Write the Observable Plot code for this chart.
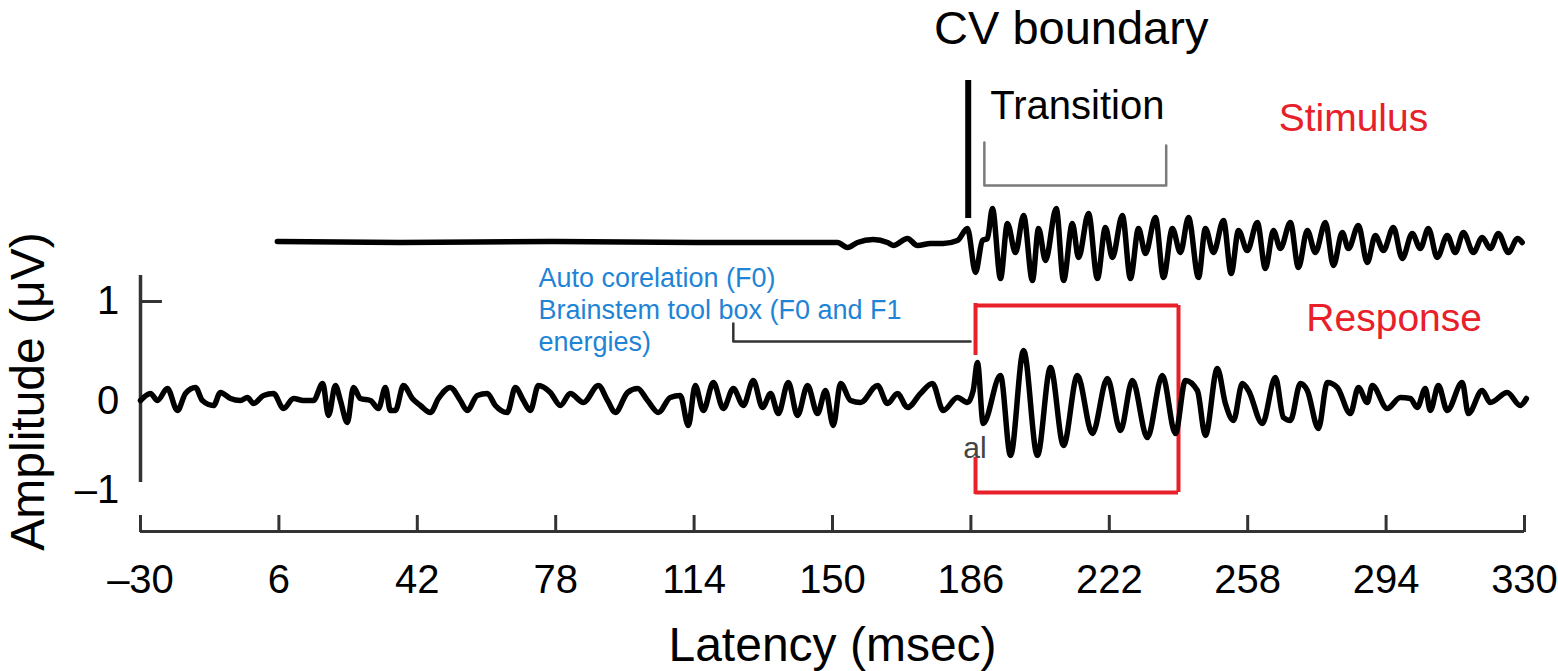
<!DOCTYPE html>
<html><head><meta charset="utf-8">
<script src="https://cdn.jsdelivr.net/npm/d3@7"></script>
<script src="https://cdn.jsdelivr.net/npm/@observablehq/plot@0.6"></script>
<style>body{margin:0;background:#fff}</style>
</head><body><div id="chart"></div>
<script>
// Tick labels
const xTicks = [-30, 6, 42, 78, 114, 150, 186, 222, 258, 294, 330];
const yTicks = [1, 0, -1];

// Response (µV) vs latency (msec)
const responseT = [
  -30, -27.4, -25.6, -23.0, -20.4, -18.3, -15.7, -13.9, -11.0, -9.2,
  -6.6, -4.0, -2.2, -0.6, 2.0, 4.6, 7.2, 9.8, 12.4, 15.0,
  17.4, 18.9, 20.7, 22.0, 23.8, 25.4, 27.2, 29.8, 31.9, 33.7,
  35.0, 36.3, 38.4, 40.7, 42.8, 45.4, 47.5, 50.6, 53.2, 55.0,
  57.6, 60.2, 62.3, 65.4, 67.5, 69.6, 71.4, 73.5, 76.6, 79.2,
  81.8, 85.2, 89.1, 91.5, 93.5, 96.7, 99.3, 101.9, 104.7, 107.8,
  110.4, 112.5, 114.3, 116.4, 119.0, 121.6, 124.2, 126.8, 129.4, 131.8,
  133.9, 135.9, 138.5, 140.9, 143.5, 146.1, 148.2, 150.2, 152.1, 154.7,
  157.3, 161.7, 164.3, 166.9, 169.5, 172.9, 176.0, 178.8, 182.5, 185.1,
  186.6, 187.7, 189.2, 193.7, 196.3, 199.7, 203.3, 206.7, 210.1, 213.7,
  217.6, 221.5, 224.9, 228.0, 231.9, 235.8, 239.2, 241.8, 244.9, 247.0,
  250.1, 252.2, 254.3, 256.6, 258.2, 261.8, 265.2, 267.3, 269.1, 271.7,
  273.5, 276.4, 278.7, 281.3, 284.7, 286.8, 289.1, 290.4, 294.3, 297.7,
  300.3, 302.1, 304.2, 305.5, 307.6, 309.9, 313.8, 315.4, 319.0, 321.1,
  325.5, 328.9, 330.5
];
const responseV = [
  0.01, 0.08, 0.01, 0.13, -0.09, 0.08, 0.14, 0.01, -0.04, 0.09,
  0.03, 0.01, 0.04, -0.02, 0.06, 0.08, -0.07, 0.03, 0.01, 0.01,
  0.18, -0.14, 0.16, 0.01, -0.21, 0.14, 0.03, 0.01, -0.07, 0.14,
  -0.09, -0.09, 0.16, 0.03, -0.04, -0.11, 0.03, 0.14, 0.01, -0.09,
  0.06, 0.08, -0.04, -0.11, 0.14, 0.01, -0.09, 0.16, 0.09, -0.04,
  0.08, -0.01, 0.16, 0.01, -0.11, 0.09, 0.13, 0.01, -0.11, 0.04,
  0.06, -0.24, 0.16, -0.09, 0.19, -0.07, 0.13, -0.04, 0.21, -0.06,
  0.08, -0.12, 0.19, -0.14, 0.16, -0.12, 0.11, -0.24, 0.18, 0.01,
  -0.01, 0.16, -0.02, 0.08, -0.06, 0.08, 0.18, -0.09, 0.04, -0.01,
  0.11, 0.39, -0.22, 0.26, -0.54, 0.51, -0.54, 0.34, -0.44, 0.26,
  -0.32, 0.23, -0.29, 0.21, -0.36, 0.26, -0.32, 0.21, 0.11, -0.34,
  0.33, -0.02, -0.19, 0.18, 0.11, -0.22, 0.24, -0.16, -0.19, 0.18,
  0.11, -0.27, 0.19, 0.14, -0.12, 0.14, -0.01, 0.16, -0.07, 0.04,
  0.03, -0.06, 0.13, -0.09, 0.16, -0.09, 0.19, -0.12, 0.11, -0.01,
  0.09, -0.04, 0.03
];

// Stimulus waveform (relative units) vs latency (msec)
const stimulusT = [
  5.6, 37.6, 76.6, 115.6, 145.0, 151.3, 153.9, 156.5, 160.6, 164.3,
  165.8, 169.5, 172.1, 175.5, 178.8, 182.5, 185.1, 187.2, 189.0, 190.3,
  191.6, 193.7, 195.5, 197.6, 199.7, 202.0, 203.6, 205.4, 208.2, 210.1,
  212.4, 214.0, 216.6, 218.9, 221.0, 222.8, 225.4, 227.5, 229.6, 231.4,
  234.0, 236.1, 238.4, 240.5, 242.6, 245.2, 247.0, 249.1, 251.7, 253.7,
  255.6, 257.9, 260.5, 262.6, 264.7, 266.5, 269.1, 271.2, 273.5, 275.6,
  278.2, 280.3, 282.6, 284.2, 286.8, 289.1, 291.2, 293.3, 295.9, 298.2,
  300.8, 302.9, 305.0, 307.3, 309.9, 312.0, 314.1, 316.7, 319.0, 321.1,
  323.2, 325.8, 328.2, 329.4
];
const stimulusV = [
  0, -0.01, 0, -0.01, -0.01, -0.01, -0.06, -0.01, 0.02, -0.01,
  -0.04, 0.03, -0.04, -0.02, -0.02, 0.01, 0.13, -0.31, 0.01, 0.03,
  0.33, -0.37, 0.18, -0.11, 0.26, -0.39, 0.13, -0.19, 0.33, -0.39,
  0.18, -0.16, 0.28, -0.37, 0.14, -0.16, 0.26, -0.37, 0.13, -0.12,
  0.24, -0.36, 0.13, -0.11, 0.24, -0.36, 0.13, -0.11, 0.21, -0.32,
  0.11, -0.09, 0.19, -0.27, 0.11, -0.07, 0.19, -0.26, 0.11, -0.11,
  0.19, -0.24, 0.09, -0.07, 0.16, -0.21, 0.06, -0.09, 0.14, -0.17,
  0.08, -0.07, 0.13, -0.16, 0.06, -0.11, 0.09, -0.11, 0.04, -0.07,
  0.08, -0.11, 0.03, -0.01
];

// Annotated times (msec)
const cvBoundary = 185.3;
const transitionSpan = [189.5, 236.8];
const analysisWindow = [187.2, 240.0];

const FONT = "'Liberation Sans', Arial, Helvetica, sans-serif";
const RED = "#e8202a";
const BLUE = "#1f84d6";
const AXIS = "#333";
const STIM_OFFSET = 1.6;

const response = responseT.map((t, i) => ({t, v: responseV[i]}));
const stimulus = stimulusT.map((t, i) => ({t, v: stimulusV[i] + STIM_OFFSET}));
const fmt = d => d < 0 ? "\u2013" + Math.abs(d) : String(d);

const chart = Plot.plot({
  width: 1558,
  height: 671,
  style: {fontFamily: FONT, background: "#fff", color: "#000", overflow: "visible"},
  x: {domain: [-30, 330], range: [140, 1524], axis: null},
  y: {domain: [-1, 1], range: [501, 301], axis: null},
  marks: [
    // red analysis window box
    Plot.ruleY([0.96, -0.91], {x1: analysisWindow[0], x2: analysisWindow[1], stroke: RED, strokeWidth: 4}),
    Plot.ruleX([analysisWindow[1]], {y1: 0.96, y2: -0.91, stroke: RED, strokeWidth: 4}),
    Plot.ruleX([{y1: 0.98, y2: 0.46}, {y1: -0.56, y2: -0.93}], {x: analysisWindow[0], y1: "y1", y2: "y2", stroke: RED, strokeWidth: 4}),
    // leader line from annotation
    Plot.line([{t: 124.2, v: 0.78}, {t: 124.2, v: 0.60}, {t: 185.9, v: 0.60}], {x: "t", y: "v", stroke: AXIS, strokeWidth: 2.5}),
    // axes
    Plot.ruleX([-30], {y1: 1.26, y2: -0.81, stroke: AXIS, strokeWidth: 3.5}),
    Plot.ruleY([1], {x1: -30, x2: -24.3, stroke: AXIS, strokeWidth: 3}),
    Plot.ruleY([-1.30], {x1: -30, x2: 330, stroke: AXIS, strokeWidth: 3}),
    Plot.ruleX(xTicks, {y1: -1.31, y2: -1.14, stroke: AXIS, strokeWidth: 3}),
    Plot.text(xTicks, {x: d => d, y: -1.91, text: fmt, fontSize: 40, lineAnchor: "bottom", fill: "#000"}),
    Plot.text(yTicks.filter(d => d !== -1), {x: -35.5, y: d => d, text: fmt, fontSize: 40, textAnchor: "end", lineAnchor: "middle", fill: "#000"}),
    Plot.text(yTicks.filter(d => d === -1), {x: -35.5, y: d => d, dy: -11, text: fmt, fontSize: 40, textAnchor: "end", lineAnchor: "middle", fill: "#000"}),
    Plot.text(["Amplitude (\u03bcV)"], {x: -55.2, y: 0.10, rotate: -90, fontSize: 48, lineAnchor: "bottom", textAnchor: "middle", fill: "#000"}),
    Plot.text(["Latency (msec)"], {x: 150, y: -2.59, fontSize: 48, lineAnchor: "bottom", fill: "#000"}),
    // CV boundary & transition
    Plot.ruleX([cvBoundary], {y1: 3.21, y2: 1.83, stroke: "#000", strokeWidth: 6}),
    Plot.line([{t: transitionSpan[0], v: 2.59}, {t: transitionSpan[0], v: 2.16}, {t: transitionSpan[1], v: 2.16}, {t: transitionSpan[1], v: 2.56}],
      {x: "t", y: "v", stroke: "#7a7a7a", strokeWidth: 2.5}),
    Plot.text(["CV boundary"], {x: 212.1, y: 3.58, fontSize: 47, lineAnchor: "bottom", fill: "#000"}),
    Plot.text(["Transition"], {x: 213.7, y: 2.83, fontSize: 40, lineAnchor: "bottom", fill: "#000"}),
    Plot.text(["Stimulus"], {x: 285.5, y: 2.71, fontSize: 39, lineAnchor: "bottom", fill: RED}),
    Plot.text(["Response"], {x: 296.1, y: 0.71, fontSize: 39, lineAnchor: "bottom", fill: RED}),
    Plot.text(["Auto corelation (F0)\nBrainstem tool box (F0 and F1\nenergies)"], {x: 73.5, y: 0.51, fontSize: 27, lineHeight: 1.17, textAnchor: "start", lineAnchor: "bottom", fill: BLUE}),
    Plot.text(["al"], {x: 184.0, y: -0.56, fontSize: 30, textAnchor: "start", lineAnchor: "bottom", fill: "#444"}),
    // waveforms
    Plot.line(stimulus, {x: "t", y: "v", curve: "monotone-x", stroke: "#000", strokeWidth: 5.5, strokeLinejoin: "round"}),
    Plot.line(response, {x: "t", y: "v", curve: "monotone-x", stroke: "#000", strokeWidth: 5.5, strokeLinejoin: "round"})
  ]
});
document.getElementById("chart").append(chart);
</script>
</body></html>
